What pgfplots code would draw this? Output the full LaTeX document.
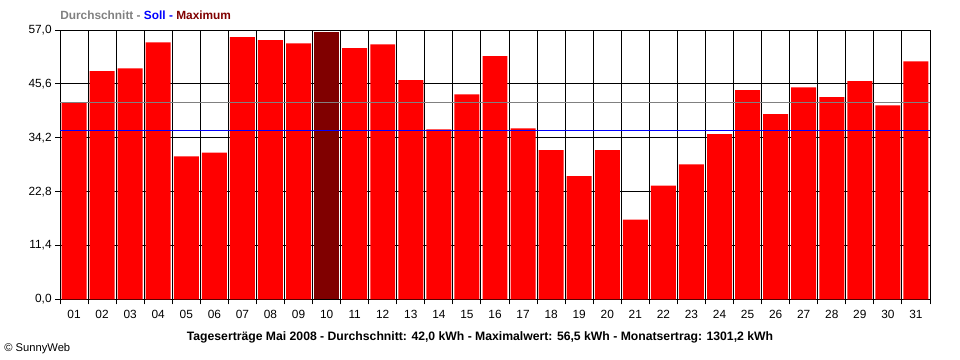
\documentclass[border=0pt]{standalone}
\usepackage{pgfplots}
\pgfplotsset{compat=1.18}
\usepackage{fontspec}
\setmainfont{Liberation Sans}
\definecolor{barred}{HTML}{FF0000}
\definecolor{maxred}{HTML}{800000}
\definecolor{avggray}{HTML}{808080}
\definecolor{sollblue}{HTML}{0000FF}
\begin{document}
\begin{tikzpicture}[x=0.75pt,y=0.75pt]
\useasboundingbox (0,0) rectangle (960,360);
\begin{axis}[
  at={(45pt,45.4pt)}, anchor=south west,
  scale only axis, width=652.5pt, height=202pt,
  xmin=0.5, xmax=31.5, ymin=0, ymax=57,
  axis line style={black, line width=0.75pt},
  xtick={1,...,31},
  xticklabels={01,02,03,04,05,06,07,08,09,10,11,12,13,14,15,16,17,18,19,20,21,22,23,24,25,26,27,28,29,30,31},
  major x tick style={draw=none},
  minor xtick={0.5,1.5,...,31.5},
  xminorgrids=true,
  minor grid style={black, line width=0.75pt},
  minor x tick style={black, line width=0.75pt},
  ytick={0,11.4,22.8,34.2,45.6,57},
  yticklabels={{0,0},{11,4},{22,8},{34,2},{45,6},{57,0}},
  ymajorgrids=true,
  major grid style={black, line width=0.75pt},
  major y tick style={black, line width=0.75pt},
  tick align=outside,
  major tick length=3.75pt, minor tick length=3.75pt,
  tick pos=left,
  xticklabel style={font=\fontsize{8.9}{10}\selectfont, yshift=-1pt},
  yticklabel style={font=\fontsize{8.9}{10}\selectfont, xshift=1pt},
  /pgf/number format/assume math mode=true,
  clip=false,
]
\addplot[ybar, bar width=0.89, bar shift=0pt, fill=barred, draw=none] coordinates {
(1,41.6) (2,48.3) (3,48.9) (4,54.4) (5,30.3) (6,31.1) (7,55.5) (8,54.9) (9,54.2)
(11,53.2) (12,54.0) (13,46.4) (14,36.0) (15,43.4) (16,51.5) (17,36.2) (18,31.6)
(19,26.1) (20,31.6) (21,16.9) (22,24.1) (23,28.6) (24,35.0) (25,44.3) (26,39.2)
(27,44.9) (28,42.8) (29,46.2) (30,41.1) (31,50.4)
};
\addplot[ybar, bar width=0.89, bar shift=0pt, fill=maxred, draw=none] coordinates {(10,56.5)};
\addplot[avggray, line width=0.75pt, no marks] coordinates {(0.5,41.75) (31.5,41.75)};
\addplot[sollblue, line width=0.75pt, no marks] coordinates {(0.5,35.8) (31.5,35.8)};
\end{axis}
\node[anchor=base west, inner sep=0pt, font=\fontsize{8.9}{10}\selectfont\bfseries] at (60,340)
  {\textcolor{avggray}{Durchschnitt -} \textcolor{sollblue}{Soll -} \textcolor{maxred}{Maximum}};
\node[anchor=base, inner sep=0pt, font=\fontsize{9.15}{10}\selectfont\bfseries] at (480,19)
  {Tageserträge Mai 2008 - Durchschnitt: 42,0 kWh - Maximalwert: 56,5 kWh - Monatsertrag: 1301,2 kWh};
\node[anchor=base west, inner sep=0pt, font=\fontsize{8.4}{9}\selectfont] at (4,8)
  {\textcopyright\ SunnyWeb};
\end{tikzpicture}
\end{document}
